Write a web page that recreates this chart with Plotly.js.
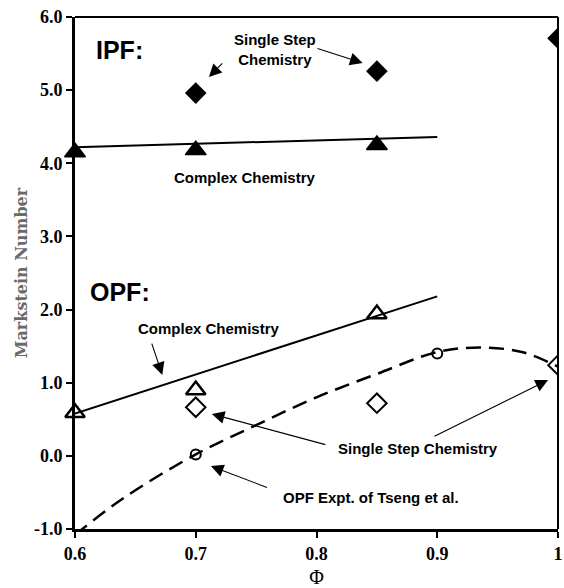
<!DOCTYPE html>
<html>
<head>
<meta charset="utf-8">
<script src="https://cdn.plot.ly/plotly-3.0.1.min.js"></script>
<style>html,body{margin:0;padding:0;background:#fff;}#chart{width:564px;height:588px;}</style>
</head>
<body>
<div id="chart"></div>
<script>
// IPF, single step chemistry (filled diamonds)
const ipfSingleX = [0.7, 0.85, 1.0];
const ipfSingleY = [4.96, 5.26, 5.71];
// IPF, complex chemistry (filled triangles) and its fit line
const ipfComplexX = [0.6, 0.7, 0.85];
const ipfComplexY = [4.15, 4.18, 4.25];
const ipfFitX = [0.6, 0.9];
const ipfFitY = [4.22, 4.36];
// OPF, complex chemistry (open triangles) and its fit line
const opfComplexX = [0.6, 0.7, 0.85];
const opfComplexY = [0.59, 0.90, 1.94];
const opfFitX = [0.6, 0.9];
const opfFitY = [0.58, 2.18];
// OPF, single step chemistry (open diamonds)
const opfSingleX = [0.7, 0.85, 1.0];
const opfSingleY = [0.665, 0.72, 1.24];
// OPF experiment of Tseng et al. (dashed curve + circles)
const exptCurveX = [0.6, 0.64, 0.7, 0.75, 0.8, 0.85, 0.9, 0.935, 0.97, 1.0];
const exptCurveY = [-1.08, -0.58, 0.02, 0.42, 0.8, 1.12, 1.42, 1.48, 1.42, 1.22];
const exptPointX = [0.7, 0.9];
const exptPointY = [0.02, 1.40];
// ticks
const xTickVals = [0.6, 0.7, 0.8, 0.9, 1.0];
const xTickText = ['0.6', '0.7', '0.8', '0.9', '1'];
const yTickVals = [-1, 0, 1, 2, 3, 4, 5, 6];
const yTickText = ['-1.0', '0.0', '1.0', '2.0', '3.0', '4.0', '5.0', '6.0'];

const traces = [
  {x: ipfFitX, y: ipfFitY, mode: 'lines', line: {color: '#000', width: 2}, cliponaxis: false},
  {x: opfFitX, y: opfFitY, mode: 'lines', line: {color: '#000', width: 2}, cliponaxis: false},
  {x: exptCurveX, y: exptCurveY, mode: 'lines', line: {color: '#000', width: 2.5, dash: '15px,8px', shape: 'spline'}, cliponaxis: false},
  {x: exptPointX, y: exptPointY, mode: 'markers', marker: {symbol: 'circle-open', size: 10, color: '#000', line: {width: 2, color: '#000'}}},
  {x: ipfSingleX, y: ipfSingleY, mode: 'markers', marker: {symbol: 'diamond', size: 15, color: '#000', line: {width: 1.5, color: '#000'}}, cliponaxis: true},
  {x: ipfComplexX, y: ipfComplexY, mode: 'markers', marker: {symbol: 'triangle-up', size: 18, color: '#000', line: {width: 1.5, color: '#000'}}, cliponaxis: false},
  {x: opfComplexX, y: opfComplexY, mode: 'markers', marker: {symbol: 'triangle-up-open', size: 17, color: '#000', line: {width: 2.5, color: '#000'}}, cliponaxis: false},
  {x: opfSingleX, y: opfSingleY, mode: 'markers', marker: {symbol: 'diamond-open', size: 15, color: '#000', line: {width: 2, color: '#000'}}, cliponaxis: true}
];

const txtFont = {family: 'Liberation Sans, Arial, sans-serif', size: 15, color: '#000', weight: 'bold'};
const bigFont = {family: 'Liberation Sans, Arial, sans-serif', size: 25, color: '#000', weight: 'bold'};

function label(x, y, text, font) {
  return {x: x, y: y, xref: 'x', yref: 'y', text: text, showarrow: false, font: font || txtFont, xanchor: 'center', yanchor: 'middle', align: 'center'};
}
function arrow(tx, ty, hx, hy) {
  return {x: hx, y: hy, ax: tx, ay: ty, xref: 'x', yref: 'y', axref: 'x', ayref: 'y', text: '', showarrow: true,
          arrowhead: 2, arrowsize: 2.3, arrowwidth: 1.1, arrowcolor: '#000', standoff: 0};
}

const annotations = [
  label(0.637, 5.55, 'IPF:', bigFont),
  label(0.637, 2.24, 'OPF:', bigFont),
  label(0.7659, 5.55, 'Single Step<br>Chemistry'),
  label(0.7405, 3.81, 'Complex Chemistry'),
  label(0.7109, 1.748, 'Complex Chemistry'),
  label(0.8842, 0.094, 'Single Step Chemistry'),
  label(0.8448, -0.563, 'OPF Expt. of Tseng et al.'),
  arrow(0.7232, 5.385, 0.7109, 5.18),
  arrow(0.7996, 5.576, 0.8382, 5.371),
  arrow(0.6632, 1.556, 0.6723, 1.105),
  arrow(0.8086, 0.148, 0.7133, 0.572),
  arrow(0.8965, 0.258, 0.9918, 1.037),
  arrow(0.7602, -0.44, 0.7125, -0.139)
];

const layout = {
  width: 564, height: 588,
  margin: {l: 75, r: 6, t: 17, b: 59},
  paper_bgcolor: '#fff', plot_bgcolor: '#fff',
  showlegend: false,
  xaxis: {
    range: [0.6, 1.0], tickvals: xTickVals, ticktext: xTickText, ticklabeloverflow: 'allow',
    showgrid: false, zeroline: false, showline: true, linewidth: 3, linecolor: '#000',
    ticks: 'outside', ticklen: 6, tickwidth: 2, tickcolor: '#000',
    tickfont: {family: 'Liberation Serif, Times New Roman, serif', size: 18, color: '#000', weight: 'bold'},
    title: {text: 'Φ', font: {family: 'Liberation Serif, Times New Roman, serif', size: 20, color: '#000'}, standoff: 8}
  },
  yaxis: {
    range: [-1, 6], tickvals: yTickVals, ticktext: yTickText,
    showgrid: false, zeroline: false, showline: true, linewidth: 3, linecolor: '#000',
    ticks: 'outside', ticklen: 6, tickwidth: 2, tickcolor: '#000',
    tickfont: {family: 'Liberation Serif, Times New Roman, serif', size: 18, color: '#000', weight: 'bold'},
    title: {text: 'Markstein Number', font: {family: 'DejaVu Serif, serif', size: 16, color: '#6a6a6a', weight: 'bold'}, standoff: 3}
  },
  shapes: [
    {type: 'line', xref: 'paper', yref: 'paper', x0: 0, x1: 1, y0: 1, y1: 1, line: {color: '#000', width: 2}},
    {type: 'line', xref: 'paper', yref: 'paper', x0: 1, x1: 1, y0: 0, y1: 1, line: {color: '#000', width: 2}}
  ],
  annotations: annotations
};

Plotly.newPlot('chart', traces, layout, {displayModeBar: false, staticPlot: true});
</script>
</body>
</html>
